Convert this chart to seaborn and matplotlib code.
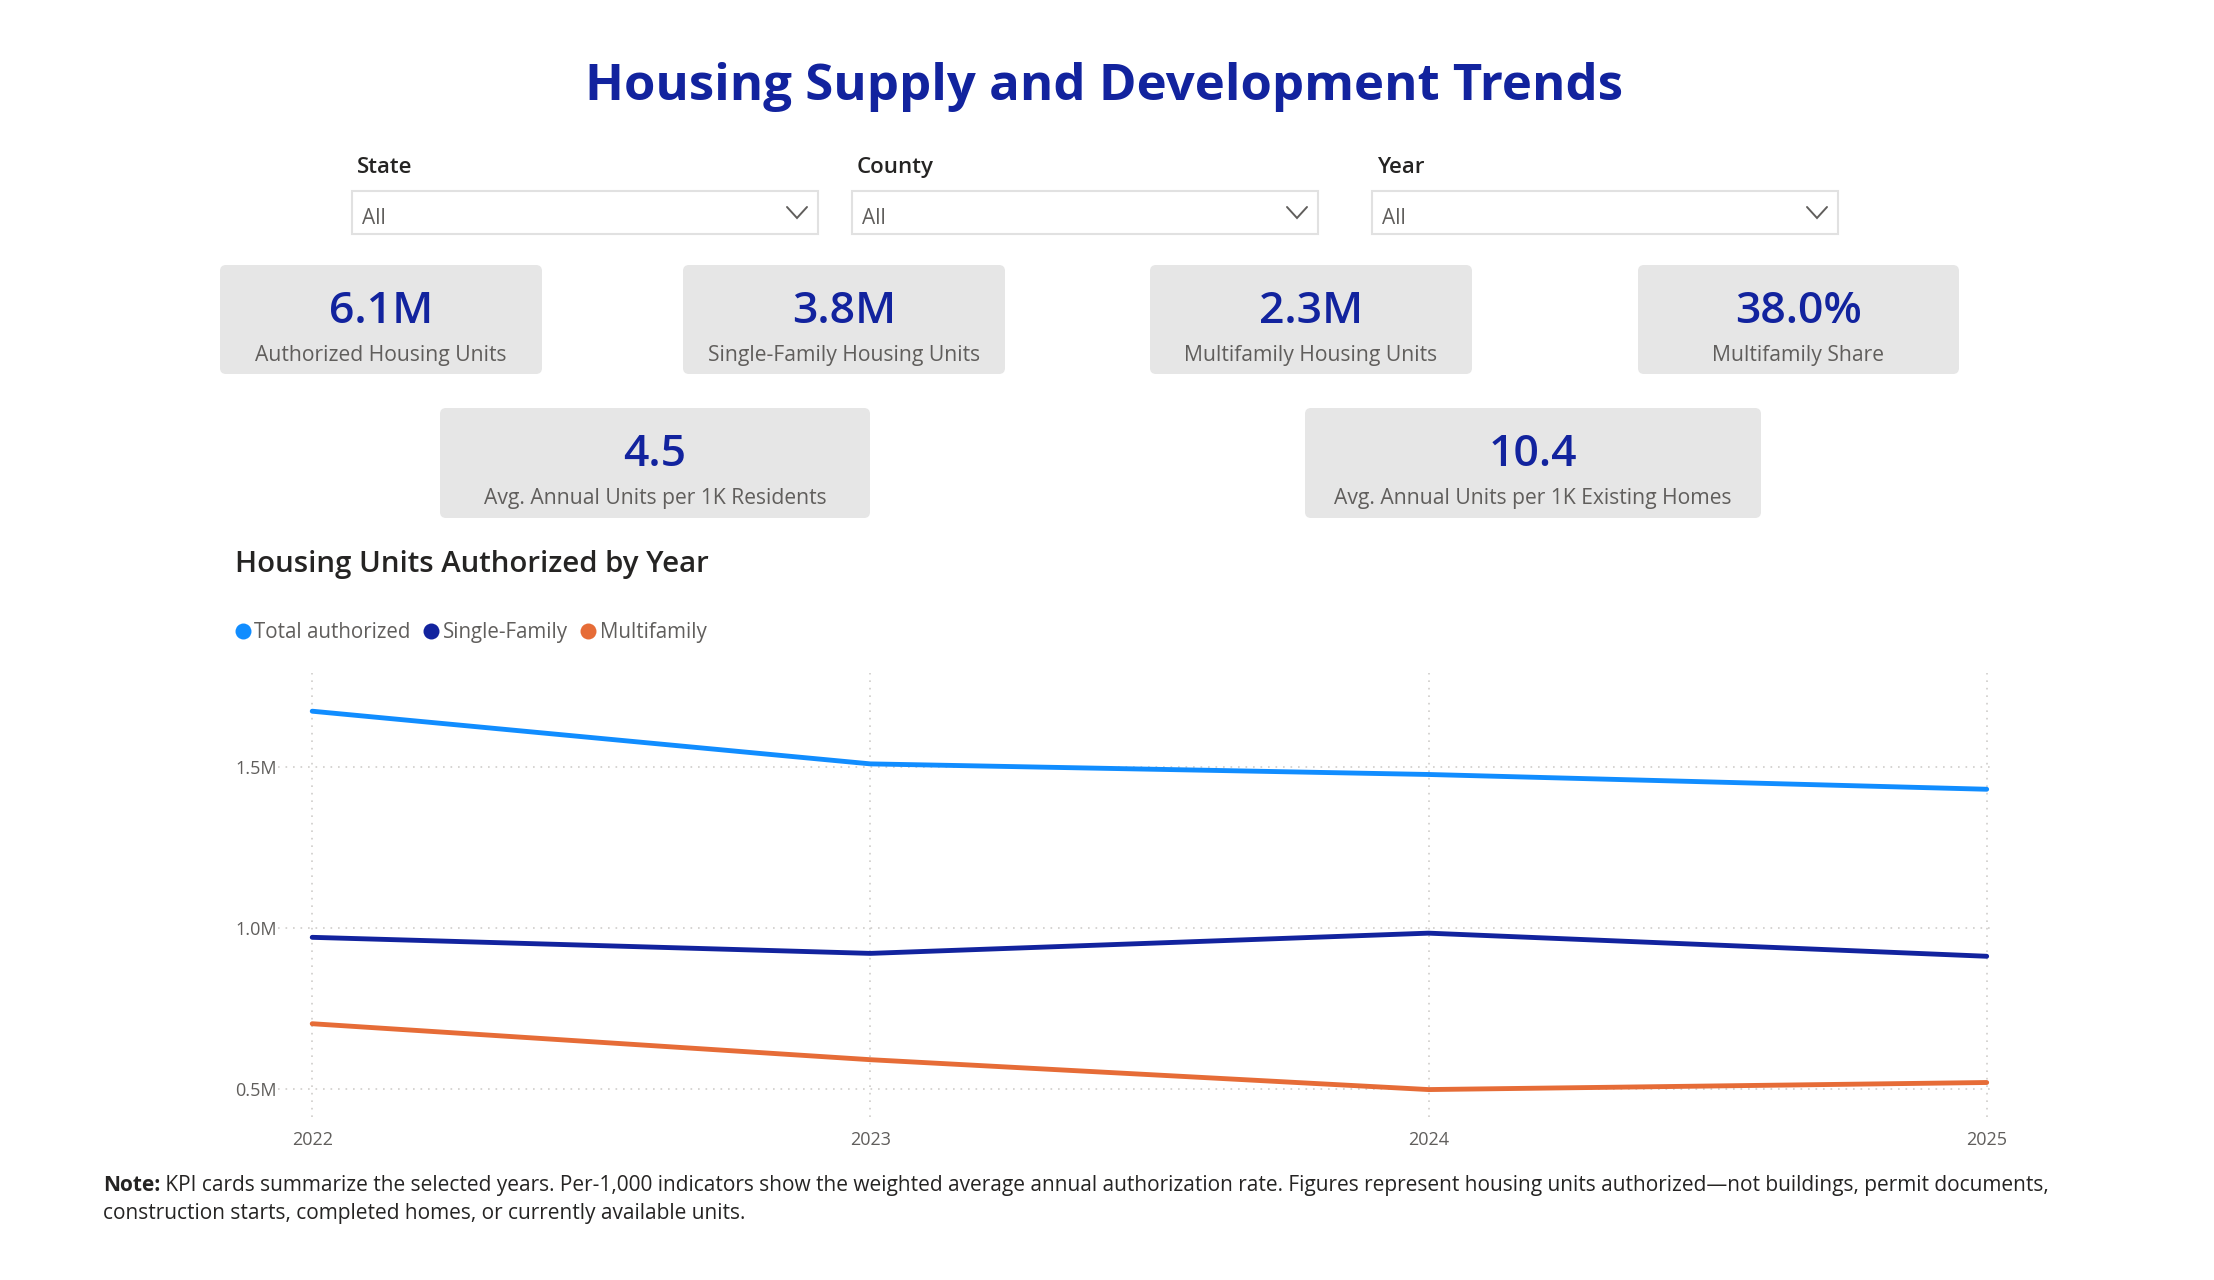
import matplotlib
matplotlib.use("Agg")
import matplotlib.pyplot as plt
import seaborn as sns
import pandas as pd
from matplotlib.patches import FancyBboxPatch, Rectangle
from matplotlib.lines import Line2D
from matplotlib.ticker import FuncFormatter

# ---- data ----
years = [2022, 2023, 2024, 2025]
total_units = [1675000, 1511000, 1478000, 1432000]
single_family = [971000, 921000, 984000, 912000]
multifamily = [702000, 590000, 497000, 519000]
series_names = ["Total authorized", "Single-Family", "Multifamily"]

kpi_values = ["6.1M", "3.8M", "2.3M", "38.0%", "4.5", "10.4"]
kpi_labels = ["Authorized Housing Units", "Single-Family Housing Units",
              "Multifamily Housing Units", "Multifamily Share",
              "Avg. Annual Units per 1K Residents",
              "Avg. Annual Units per 1K Existing Homes"]
filter_names = ["State", "County", "Year"]
filter_values = ["All", "All", "All"]

title = "Housing Supply and Development Trends"
chart_title = "Housing Units Authorized by Year"
note_bold = "Note:"
note_line1 = (" KPI cards summarize the selected years. Per-1,000 indicators show the weighted "
              "average annual authorization rate. Figures represent housing units authorized\u2014not "
              "buildings, permit documents,")
note_line2 = "construction starts, completed homes, or currently available units."

# ---- style ----
sns.set_theme(style="white")
plt.rcParams["font.family"] = ["Open Sans", "DejaVu Sans"]

NAVY = "#12239E"
BLUE = "#118DFF"
ORANGE = "#E66C37"
DARK = "#252423"
GREY = "#605E5C"
CARD = "#E6E6E6"
palette = dict(zip(series_names, [BLUE, NAVY, ORANGE]))

W, H = 2214, 1280
fig = plt.figure(figsize=(W / 100, H / 100), dpi=100)

# overlay in pixel coordinates for the header / cards / note
bg = fig.add_axes([0, 0, 1, 1])
bg.set_xlim(0, W)
bg.set_ylim(H, 0)
bg.axis("off")

bg.text(1104, 100, title, ha="center", va="baseline", fontsize=36.6,
        fontweight="bold", color=NAVY)

# slicers
filter_x = [352, 852, 1372]
for fx, name, val in zip(filter_x, filter_names, filter_values):
    bg.text(fx + 5, 173, name, ha="left", va="baseline", fontsize=16,
            fontweight="semibold", color=DARK)
    bg.add_patch(Rectangle((fx, 191), 466, 43, facecolor="white",
                           edgecolor="#E1E1E1", lw=1.5))
    bg.text(fx + 10, 224, val, ha="left", va="baseline", fontsize=15, color=GREY)
    cx = fx + 466 - 21
    bg.plot([cx - 10, cx, cx + 10], [207, 218, 207], color=GREY, lw=1.4,
            solid_joinstyle="miter")

# KPI cards: (left, right, top, bottom)
cards = [(220, 542, 265, 374), (683, 1005, 265, 374), (1150, 1472, 265, 374),
         (1638, 1959, 265, 374), (440, 870, 408, 518), (1305, 1761, 408, 518)]
for (l, r, t, b), v, lab in zip(cards, kpi_values, kpi_labels):
    bg.add_patch(FancyBboxPatch((l, t), r - l, b - t,
                                boxstyle="round,pad=0,rounding_size=6",
                                facecolor=CARD, edgecolor="none"))
    cx = (l + r) / 2
    bg.text(cx, t + 58, v, ha="center", va="baseline", fontsize=32,
            fontweight="semibold", color=NAVY)
    bg.text(cx, t + 96, lab, ha="center", va="baseline", fontsize=15.2, color=GREY)

bg.text(235, 572, chart_title, ha="left", va="baseline", fontsize=21.2,
        fontweight="semibold", color=DARK)

# note: bold lead-in, then the rest of the sentence right after it
nb = bg.text(103, 1191, note_bold, ha="left", va="baseline", fontsize=15.05,
             fontweight="bold", color=DARK)
fig.canvas.draw()
x_after = bg.transData.inverted().transform((nb.get_window_extent().x1, 0))[0]
bg.text(x_after, 1191, note_line1, ha="left", va="baseline", fontsize=15.05, color=DARK)
bg.text(103, 1219, note_line2, ha="left", va="baseline", fontsize=15.05, color=DARK)

# ---- line chart ----
df = pd.DataFrame({
    "Year": years * 3,
    "Units": total_units + single_family + multifamily,
    "Series": [series_names[0]] * 4 + [series_names[1]] * 4 + [series_names[2]] * 4,
})

ax = fig.add_axes([278 / W, 1 - 1117 / H, (1995 - 278) / W, (1117 - 672.5) / H])
ax.patch.set_alpha(0)
sns.lineplot(data=df, x="Year", y="Units", hue="Series", palette=palette,
             linewidth=3.5, legend=False, ax=ax, solid_capstyle="round")

ax.set_xlim(2021.9387, 2025.0149)
ax.set_ylim(411600, 1795500)
ax.set_xticks(years)
ax.set_xticklabels([str(y) for y in years])
ax.set_yticks([500000, 1000000, 1500000])
ax.yaxis.set_major_formatter(FuncFormatter(lambda v, p: f"{v / 1e6:.1f}M"))
ax.set_xlabel("")
ax.set_ylabel("")
for s in ax.spines.values():
    s.set_visible(False)
ax.grid(True, color="#CFCDCB", linestyle=(0, (1, 3.5)), linewidth=1.2)
ax.set_axisbelow(True)
ax.tick_params(axis="both", length=0, labelsize=13, labelcolor=GREY)
ax.tick_params(axis="y", pad=1)
ax.tick_params(axis="x", pad=10)

handles = [Line2D([], [], marker="o", linestyle="none", markersize=11.5,
                  markerfacecolor=palette[n], markeredgecolor="none", label=n)
           for n in series_names]
fig.legend(handles=handles, loc="upper left",
           bbox_to_anchor=(236 / W, 1 - 622 / H), ncol=3, frameon=False,
           fontsize=14.8, labelcolor=GREY, handlelength=0.7, handletextpad=0.2,
           columnspacing=0.65, borderpad=0, borderaxespad=0)

fig.savefig("out.png", dpi=100, facecolor="white")
